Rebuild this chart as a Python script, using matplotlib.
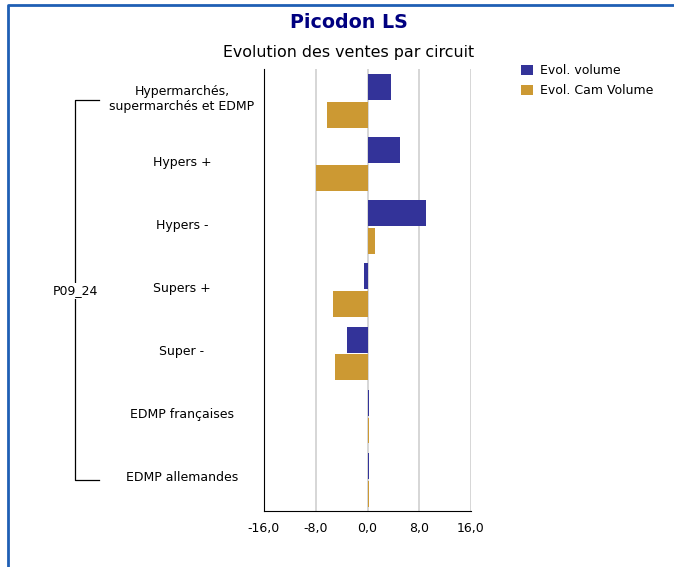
import matplotlib.pyplot as plt
from matplotlib.lines import Line2D
import numpy as np

plt.rcParams['font.family'] = ['DejaVu Sans']

# data
categories = ['Hypermarchés,\nsupermarchés et EDMP', 'Hypers +', 'Hypers -',
              'Supers +', 'Super -', 'EDMP françaises', 'EDMP allemandes']
evol_volume = [3.7, 5.1, 9.1, -0.5, -3.1, 0.3, 0.3]
evol_cam = [-6.2, -7.9, 1.2, -5.3, -5.1, 0.3, 0.3]
series_names = ['Evol. volume', 'Evol. Cam Volume']
xticks = [-16, -8, 0, 8, 16]
group_label = 'P09_24'

blue = '#333399'
gold = '#cc9933'

W, H = 674, 567
fig = plt.figure(figsize=(W / 100, H / 100), dpi=100)
ax = fig.add_axes([264 / W, 1 - 511 / H, 207 / W, 442 / H])

y = np.arange(len(categories))
h = 0.41
b1 = ax.barh(y - 0.215, evol_volume, height=h, color=blue, label=series_names[0])
b2 = ax.barh(y + 0.225, evol_cam, height=h, color=gold, label=series_names[1])

ax.set_xlim(-16, 16)
ax.set_ylim(len(categories) - 0.5, -0.5)
ax.set_xticks(xticks)
ax.set_xticklabels([('%.1f' % v).replace('.', ',') for v in xticks])
ax.tick_params(axis='x', length=0, labelsize=9, pad=8)
ax.set_yticks([])
ax.grid(axis='x', color='#d0d0d0', linewidth=1.2)
ax.set_axisbelow(True)
for s in ['top', 'right']:
    ax.spines[s].set_visible(False)
ax.spines['left'].set_color('black')
ax.spines['bottom'].set_color('black')

# category labels
for i, c in enumerate(categories):
    yy = ax.transData.transform((0, i))[1]
    fig.text(182 / W, yy / H + 0.003, c, ha='center', va='center', fontsize=9)

# bracket
top_y = 1 - 100 / H
bot_y = 1 - 480 / H
fig.add_artist(Line2D([99 / W, 75 / W, 75 / W, 99 / W], [top_y, top_y, bot_y, bot_y],
                      color='black', linewidth=0.9))
fig.text(75 / W, 1 - 291 / H, group_label, ha='center', va='center', fontsize=9,
         bbox=dict(facecolor='white', edgecolor='none', pad=1))

# titles
fig.text(349 / W, 1 - 22 / H, 'Picodon LS', ha='center', va='center', fontsize=13.7,
         fontweight='bold', color='#000080')
fig.text(349 / W, 1 - 52 / H, 'Evolution des ventes par circuit', ha='center', va='center',
         fontsize=11.4)

fig.legend(handles=[b1, b2], loc='upper left', bbox_to_anchor=(510 / W, 1 - 53 / H),
           frameon=False, fontsize=9, handlelength=0.9, handleheight=0.9,
           handletextpad=0.6, labelspacing=0.55)

# outer border
fig.add_artist(Line2D([8 / W, 8 / W, 1], [0, 1 - 5 / H, 1 - 5 / H], color='#1f5fb4', linewidth=2))

fig.savefig('out.png', dpi=100)
